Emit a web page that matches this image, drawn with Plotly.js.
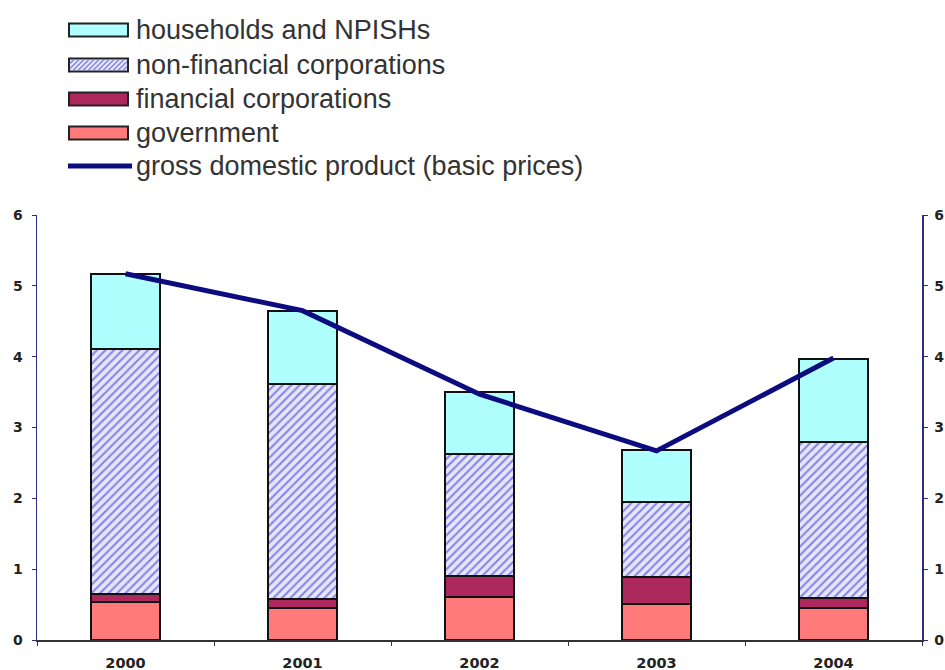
<!DOCTYPE html>
<html>
<head>
<meta charset="utf-8">
<script src="https://cdn.plot.ly/plotly-3.0.1.min.js"></script>
<style>html,body{margin:0;padding:0;background:#fff;}#chart{width:945px;height:670px;}</style>
</head>
<body>
<div id="chart"></div>
<script>
// ---- data ----
var years = ['2000', '2001', '2002', '2003', '2004'];
var government = [0.54, 0.45, 0.61, 0.51, 0.45];
var financialCorps = [0.11, 0.13, 0.29, 0.38, 0.14];
var nonFinancialCorps = [3.46, 3.03, 1.73, 1.06, 2.21];
var households = [1.06, 1.03, 0.87, 0.73, 1.17];
var gdpBasic = [5.17, 4.65, 3.47, 2.67, 3.98];
var legendLabels = ['households and NPISHs', 'non-financial corporations', 'financial corporations', 'government', 'gross domestic product (basic prices)'];

// ---- geometry helpers (pixel -> paper) ----
var W = 945, H = 670;
var mL = 37, mR = 23, mT = 215, mB = 30;
var pw = W - mL - mR, ph = H - mT - mB;
function px(x) { return (x - mL) / pw; }
function py(y) { return (H - mB - y) / ph; }

var xTickFont = {family: 'DejaVu Sans, Verdana, sans-serif', size: 14.5, color: '#222', weight: 'bold'};
var yTickFont = {family: 'DejaVu Sans, Verdana, sans-serif', size: 14, color: '#222', weight: 'bold'};
var navy = '#2b2b8f';
var outline = {color: '#111', width: 2};

var traces = [
  {type: 'bar', x: years, y: government, name: legendLabels[3],
   marker: {color: '#ff7b7b', line: outline}},
  {type: 'bar', x: years, y: financialCorps, name: legendLabels[2],
   marker: {color: '#ad285c', line: outline}},
  {type: 'bar', x: years, y: nonFinancialCorps, name: legendLabels[1],
   marker: {color: '#dcdcff', line: outline,
            pattern: {shape: '/', bgcolor: '#e6e6ff', fgcolor: '#8585e0', size: 6, solidity: 0.35}}},
  {type: 'bar', x: years, y: households, name: legendLabels[0],
   marker: {color: '#b0ffff', line: outline}},
  {type: 'scatter', mode: 'lines', x: years, y: gdpBasic, name: legendLabels[4],
   yaxis: 'y2', line: {color: '#0c0c80', width: 5}}
];

// ---- custom legend (shapes + text) ----
var rowY = [30, 65, 99, 133, 166];
var boxX0 = 69, boxX1 = 128, boxH = 13;
var fills = ['#b0ffff', '#e6e6ff', '#ad285c', '#ff7b7b'];
var shapes = [];
var annotations = [];
for (var i = 0; i < 4; i++) {
  shapes.push({type: 'rect', xref: 'paper', yref: 'paper',
    x0: px(boxX0), x1: px(boxX1), y0: py(rowY[i] + boxH / 2), y1: py(rowY[i] - boxH / 2),
    fillcolor: fills[i], line: {color: '#222', width: 2}, layer: 'above'});
}
// hatch inside the non-financial legend box
(function () {
  var y0 = rowY[1] + boxH / 2 - 1, y1 = rowY[1] - boxH / 2 + 1, h = y0 - y1;
  for (var s = boxX0 - h; s < boxX1; s += 5) {
    var xa = s, ya = y0, xb = s + h, yb = y1;
    if (xa < boxX0 + 1) { ya = y0 - (boxX0 + 1 - xa); xa = boxX0 + 1; }
    if (xb > boxX1 - 1) { yb = y1 + (xb - (boxX1 - 1)); xb = boxX1 - 1; }
    if (xb <= xa) continue;
    shapes.push({type: 'line', xref: 'paper', yref: 'paper',
      x0: px(xa), y0: py(ya), x1: px(xb), y1: py(yb),
      line: {color: '#8585e0', width: 1.5}, layer: 'above'});
  }
})();
shapes.push({type: 'line', xref: 'paper', yref: 'paper',
  x0: px(68), x1: px(132), y0: py(rowY[4]), y1: py(rowY[4]),
  line: {color: '#0c0c80', width: 5}, layer: 'above'});
for (var j = 0; j < 5; j++) {
  annotations.push({xref: 'paper', yref: 'paper', x: px(134), y: py(rowY[j]),
    xanchor: 'left', yanchor: 'middle', showarrow: false, text: legendLabels[j],
    font: {family: 'Liberation Sans, Arial, sans-serif', size: 27, color: '#333'}});
}

var layout = {
  width: W, height: H,
  margin: {l: mL, r: mR, t: mT, b: mB, pad: 0},
  paper_bgcolor: '#fff', plot_bgcolor: '#fff',
  barmode: 'stack', bargap: 0.605,
  showlegend: false,
  font: {family: 'DejaVu Sans, sans-serif', color: '#222'},
  xaxis: {type: 'category', tickson: 'boundaries', ticks: 'outside', ticklen: 4,
          tickcolor: '#333', showline: true, linecolor: '#333', linewidth: 1.5,
          showgrid: false, zeroline: false, tickfont: xTickFont, ticklabelstandoff: 9},
  yaxis: {range: [0, 6], dtick: 1, ticks: 'outside', ticklen: 4, tickcolor: navy,
          showline: true, linecolor: navy, linewidth: 1.5, showgrid: false,
          zeroline: false, tickfont: yTickFont, ticklabelstandoff: 6},
  yaxis2: {range: [0, 6], dtick: 1, overlaying: 'y', side: 'right', ticks: 'outside',
           ticklen: 4, tickcolor: navy, showline: true, linecolor: navy, linewidth: 1.5,
           showgrid: false, zeroline: false, tickfont: yTickFont, ticklabelstandoff: 4},
  yaxis3: {range: [0, 6], dtick: 1, overlaying: 'y', side: 'right', ticks: 'inside',
           ticklen: 4, tickcolor: navy, showline: false, showticklabels: false,
           showgrid: false, zeroline: false},
  shapes: shapes,
  annotations: annotations
};

Plotly.newPlot('chart', traces, layout, {displayModeBar: false, staticPlot: true});
</script>
</body>
</html>
